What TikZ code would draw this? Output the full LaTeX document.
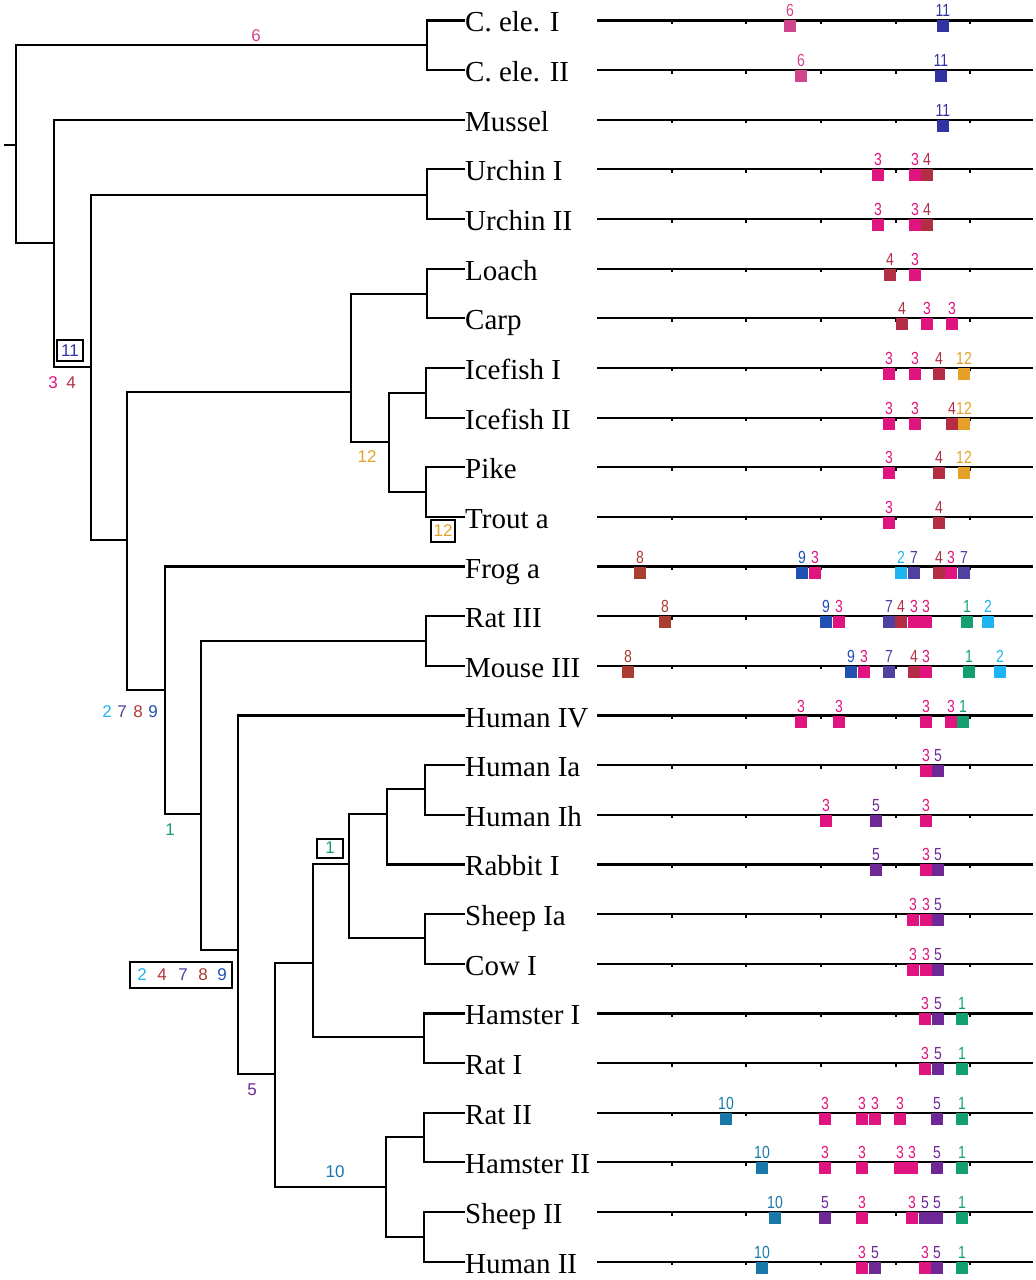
\documentclass[tikz,border=0pt]{standalone}
\usepackage{fontspec}
\setmainfont{Liberation Serif}
\newfontfamily\digitfont[FakeStretch=0.8]{Liberation Sans}
\newfontfamily\tagfont{Liberation Sans}
\usetikzlibrary{calc}

%% site colours %%
\definecolor{m1}{HTML}{14A06E}
\definecolor{m2}{HTML}{1EB4F0}
\definecolor{m3}{HTML}{E0147E}
\definecolor{m4}{HTML}{B32E45}
\definecolor{m5}{HTML}{6E2896}
\definecolor{m6}{HTML}{D0468C}
\definecolor{m7}{HTML}{5040A0}
\definecolor{m8}{HTML}{AA3C32}
\definecolor{m9}{HTML}{2050B4}
\definecolor{m10}{HTML}{1878AA}
\definecolor{m11}{HTML}{3232A0}
\definecolor{m12}{HTML}{E6A028}

\tikzset{
  branch/.style={line width=2.2pt},
  taxon/.style={anchor=west, inner sep=0pt, text height=23pt, text depth=0pt,
    font=\fontsize{29}{30}\selectfont},
  track/.style={line width=2.2pt},
  tick/.style={line width=1.6pt},
  sitetag/.style={anchor=base, inner sep=0pt, font=\digitfont\fontsize{17.5}{17}\selectfont},
  treetag/.style={inner sep=0pt, font=\tagfont\fontsize{17}{17}\selectfont},
  tagbox/.style={draw, line width=2pt, inner sep=0pt, font=\tagfont\fontsize{17}{17}\selectfont}
}

\begin{document}
\begin{tikzpicture}[x=1pt, y=-1pt]
\useasboundingbox (0,0) rectangle (1036,1280);

%% Taxa and tracks %%
\foreach \name/\txt [count=\i from 0] in {celeI/C. ele. I, celeII/C. ele. II,
    mussel/Mussel, urchinI/Urchin I, urchinII/Urchin II, loach/Loach, carp/Carp,
    icefishI/Icefish I, icefishII/Icefish II, pike/Pike, troutA/Trout a,
    frogA/Frog a, ratIII/Rat III, mouseIII/Mouse III, humanIV/Human IV,
    humanIa/Human Ia, humanIh/Human Ih, rabbitI/Rabbit I, sheepIa/Sheep Ia,
    cowI/Cow I, hamsterI/Hamster I, ratI/Rat I, ratII/Rat II,
    hamsterII/Hamster II, sheepII/Sheep II, humanII/Human II}{
  \pgfmathsetmacro\yy{20.4+49.65*\i}
  \node[taxon] (\name) at (465,\yy) {\txt};
  \coordinate (trk\i) at (597,\yy);
  \draw[track] (trk\i) -- ++(436,0);
  \foreach \tx in {672,746,821,896,970}
    \draw[tick] (\tx,\yy) -- ++(0,3.5);
}

%% Internal nodes %%
\coordinate (stub) at (4,145);
\coordinate (root) at (16,145);
\coordinate (nCele) at (427,45);
\coordinate (n2) at (54,243);
\coordinate (nUrch) at (427,195);
\coordinate (n3) at (91,367);
\coordinate (n4) at (127,540);
\coordinate (nFish) at (351,392);
\coordinate (nLC) at (427,294);
\coordinate (nIP) at (389,442);
\coordinate (nIce) at (426,393);
\coordinate (nPT) at (426,492);
\coordinate (n5) at (165,690);
\coordinate (n6) at (201,814);
\coordinate (nRM) at (426,641);
\coordinate (n7) at (238,950);
\coordinate (n8) at (275,1074);
\coordinate (n9) at (313,963);
\coordinate (n10) at (349,864);
\coordinate (n11) at (387,814);
\coordinate (nHI) at (425,789);
\coordinate (nSC) at (425,938);
\coordinate (nHR) at (424,1037);
\coordinate (n12) at (386,1187);
\coordinate (nRH) at (424,1137);
\coordinate (nSH) at (424,1237);

%% Branches %%
\draw[branch] (stub) -- (root);
\foreach \p/\c in {root/nCele, root/n2, n2/n3, n3/nUrch, n3/n4, n4/nFish, n4/n5,
    nFish/nLC, nFish/nIP, nIP/nIce, nIP/nPT, n5/n6, n6/nRM, n6/n7, n7/n8,
    n8/n9, n8/n12, n9/n10, n9/nHR, n10/n11, n10/nSC, n11/nHI, n12/nRH, n12/nSH}
  \draw[branch] (\p) |- (\c);
\foreach \p/\c in {nCele/celeI, nCele/celeII, n2/mussel, nUrch/urchinI,
    nUrch/urchinII, nLC/loach, nLC/carp, nIce/icefishI, nIce/icefishII,
    nPT/pike, nPT/troutA, n5/frogA, nRM/ratIII, nRM/mouseIII, n7/humanIV,
    nHI/humanIa, nHI/humanIh, n11/rabbitI, nSC/sheepIa, nSC/cowI,
    nHR/hamsterI, nHR/ratI, nRH/ratII, nRH/hamsterII, nSH/sheepII, nSH/humanII}
  \draw[branch] (\p) |- (\c.west);

%% Tree tags %%
\node[treetag, text=m6] (tag6) at (256,36) {6};
\node[tagbox, text=m11, minimum width=26, minimum height=21] (box11) at (70,350.5) {11};
\node[treetag, text=m3] (tag3a) at (53,383) {3};
\node[treetag, text=m4] (tag4a) at (71,383) {4};
\node[treetag, text=m12] (tag12) at (367,457) {12};
\node[tagbox, text=m12, minimum width=24, minimum height=22] (box12) at (443,531) {12};
\node[treetag, text=m2] (tag2) at (107,712) {2};
\node[treetag, text=m7] (tag7) at (122,712) {7};
\node[treetag, text=m8] (tag8) at (138,712) {8};
\node[treetag, text=m9] (tag9) at (153,712) {9};
\node[treetag, text=m1] (tag1) at (170,830) {1};
\node[tagbox, text=m1, minimum width=26, minimum height=19] (box1) at (330,848) {1};
\node[tagbox, minimum width=102, minimum height=26] (box24789) at (181,975) {};
\foreach \n/\tx in {2/142, 4/162, 7/183, 8/203, 9/222}
  \node[treetag, text=m\n] (bt\n) at (\tx,975) {\n};
\node[treetag, text=m5] (tag5) at (252,1090) {5};
\node[treetag, text=m10] (tag10) at (335,1172) {10};

%% Sites on tracks %%
\foreach \r/\x/\n in {0/790/6, 0/943/11, 1/801/6, 1/941/11, 2/943/11,
    3/878/3, 3/915/3, 3/927/4, 4/878/3, 4/915/3, 4/927/4,
    5/890/4, 5/915/3, 6/902/4, 6/927/3, 6/952/3,
    7/889/3, 7/915/3, 7/939/4, 7/964/12, 8/889/3, 8/915/3, 8/952/4, 8/964/12,
    9/889/3, 9/939/4, 9/964/12, 10/889/3, 10/939/4,
    11/640/8, 11/802/9, 11/815/3, 11/901/2, 11/914/7, 11/939/4, 11/951/3, 11/964/7,
    12/665/8, 12/826/9, 12/839/3, 12/889/7, 12/901/4, 12/914/3, 12/926/3, 12/967/1, 12/988/2,
    13/628/8, 13/851/9, 13/864/3, 13/889/7, 13/914/4, 13/926/3, 13/969/1, 13/1000/2,
    14/801/3, 14/839/3, 14/926/3, 14/951/3, 14/963/1,
    15/926/3, 15/938/5, 16/826/3, 16/876/5, 16/926/3, 17/876/5, 17/926/3, 17/938/5,
    18/913/3, 18/926/3, 18/938/5, 19/913/3, 19/926/3, 19/938/5,
    20/925/3, 20/938/5, 20/962/1, 21/925/3, 21/938/5, 21/962/1,
    22/726/10, 22/825/3, 22/862/3, 22/875/3, 22/900/3, 22/937/5, 22/962/1,
    23/762/10, 23/825/3, 23/862/3, 23/900/3, 23/912/3, 23/937/5, 23/962/1,
    24/775/10, 24/825/5, 24/862/3, 24/912/3, 24/925/5, 24/937/5, 24/962/1,
    25/762/10, 25/862/3, 25/875/5, 25/925/3, 25/937/5, 25/962/1}{
  \pgfmathsetmacro\yy{20.4+49.65*\r}
  \fill[fill=m\n] (\x-6.3,\yy) rectangle ++(12.6,12);
  \node[sitetag, text=m\n] (s\r-\x) at (\x,\yy-3.5) {\n};
}

\end{tikzpicture}
\end{document}
